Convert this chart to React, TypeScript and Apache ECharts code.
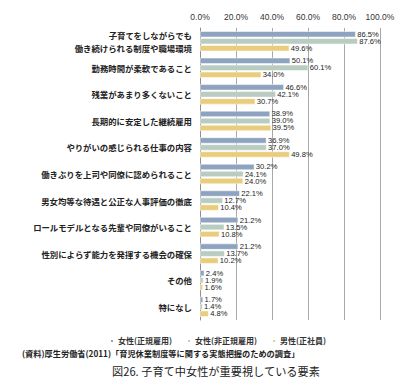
import React, { useEffect, useRef } from "react";
import * as echarts from "echarts";

const categories = [
  "子育てをしながらでも\n働き続けられる制度や職場環境",
  "勤務時間が柔軟であること",
  "残業があまり多くないこと",
  "長期的に安定した継続雇用",
  "やりがいの感じられる仕事の内容",
  "働きぶりを上司や同僚に認められること",
  "男女均等な待遇と公正な人事評価の徹底",
  "ロールモデルとなる先輩や同僚がいること",
  "性別によらず能力を発揮する機会の確保",
  "その他",
  "特になし",
];
const seriesNames = ["女性(正規雇用)", "女性(非正規雇用)", "男性(正社員)"];
const womenRegular = [86.5, 50.1, 46.6, 38.9, 36.9, 30.2, 22.1, 21.2, 21.2, 2.4, 1.7];
const womenNonRegular = [87.6, 60.1, 42.1, 39.0, 37.0, 24.1, 12.7, 13.5, 13.7, 1.9, 1.4];
const menRegular = [49.6, 34.0, 30.7, 39.5, 49.8, 24.0, 10.4, 10.8, 10.2, 1.6, 4.8];
const xTicks = { min: 0, max: 100, interval: 20 };
const sourceText = "(資料)厚生労働省(2011)「育児休業制度等に関する実態把握のための調査」";
const titleText = "図26. 子育て中女性が重要視している要素";

const colors = ["#8EA3BF", "#B8CCC1", "#E9CD7C"];
const FONT = "'Noto Sans CJK JP', 'Liberation Sans', sans-serif";
const LATIN = "'Liberation Sans', Arial, sans-serif";

export default function App() {
  const ref = useRef<HTMLDivElement>(null);
  useEffect(() => {
    document.body.style.margin = "0";
    if (!ref.current) return;
    const chart = echarts.init(ref.current, null, { renderer: "svg" });
    const values = [womenRegular, womenNonRegular, menRegular];
    chart.setOption({
      animation: false,
      color: colors,
      grid: { left: 200, right: 37, top: 28, bottom: 69, containLabel: false },
      xAxis: {
        type: "value",
        position: "top",
        min: xTicks.min,
        max: xTicks.max,
        interval: xTicks.interval,
        axisLine: { show: false },
        axisTick: { show: false },
        axisLabel: {
          formatter: (v: number) => v.toFixed(1) + "%",
          fontSize: 8.5,
          color: "#333",
          fontFamily: LATIN,
          margin: 7,
        },
        splitLine: { show: true, lineStyle: { color: "#A8A8A8", width: 1 } },
      },
      yAxis: {
        type: "category",
        inverse: true,
        data: categories,
        axisLine: { show: true, lineStyle: { color: "#909090", width: 1 } },
        axisTick: { show: false },
        axisLabel: {
          fontSize: 8.4,
          fontWeight: "bold",
          color: "#222",
          fontFamily: FONT,
          margin: 8,
          lineHeight: 13,
        },
      },
      legend: {
        data: seriesNames,
        left: 104,
        top: 332,
        icon: "rect",
        itemWidth: 4,
        itemHeight: 4,
        itemGap: 14,
        textStyle: { fontSize: 8, fontWeight: "bold", color: "#333", fontFamily: FONT, padding: [0, 0, 0, -1] },
      },
      series: values.map((d, i) => ({
        name: seriesNames[i],
        type: "bar",
        data: d,
        barWidth: 6,
        barGap: "17%",
        itemStyle: { color: colors[i], borderColor: "#fff", borderWidth: 0.5 },
        label: {
          show: true,
          position: "right",
          distance: 1.5,
          formatter: (p: any) => Number(p.value).toFixed(1) + "%",
          fontSize: 7.6,
          color: "#222",
          fontFamily: LATIN,
        },
      })),
      graphic: [
        {
          type: "text",
          left: 22,
          top: 349,
          style: { text: sourceText, fontSize: 8.2, fontWeight: "bold", fill: "#222", fontFamily: FONT },
        },
        {
          type: "text",
          left: 112,
          top: 365,
          style: { text: titleText, fontSize: 11.2, fill: "#222", fontFamily: FONT },
        },
      ],
    });
    return () => chart.dispose();
  }, []);
  return <div ref={ref} style={{ width: 417, height: 389 }} />;
}
